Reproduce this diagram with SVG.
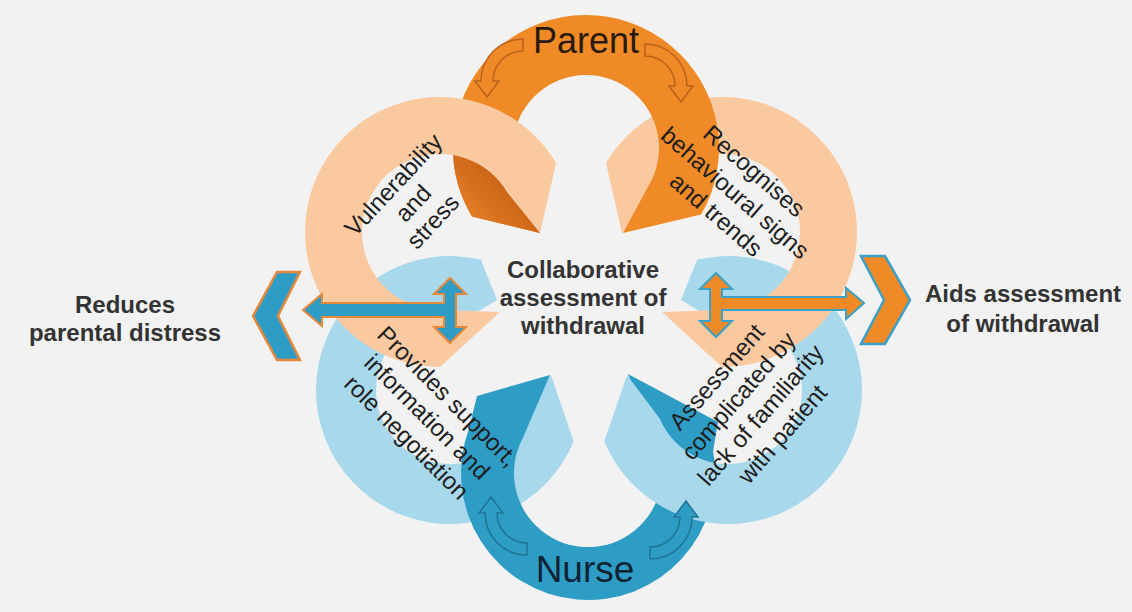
<svg xmlns="http://www.w3.org/2000/svg" width="1132" height="612" viewBox="0 0 1132 612">
<defs>
<style>
.t{font-family:"Liberation Sans",Arial,sans-serif}
.lbl{font-weight:bold;font-size:24px;fill:#333333;text-anchor:middle}
.ring{font-size:24px;fill:#1e1e1e;text-anchor:middle}
.peach{fill:#fbc9a0}
.orange{fill:#ef8a26}
.lblue{fill:#a8d8eb}
.dblue{fill:#2e9dc6}
.oarr{fill:#ef8a26;stroke:#b8621c;stroke-width:1.5}
.barr{fill:#2e9dc6;stroke:#1f7394;stroke-width:1.5}
</style>
<linearGradient id="leaf" x1="0.85" y1="0.15" x2="0.15" y2="0.9">
<stop offset="0" stop-color="#c05a14"/>
<stop offset="0.5" stop-color="#cf6818"/>
<stop offset="1" stop-color="#e8812a"/>
</linearGradient>
</defs>
<rect width="1132" height="612" fill="#f2f2f2"/>

<g id="ring-blue-left">
<path class="lblue" d="M480.8,259.6 A134,134 0 1,0 573.7,441.6 L551,375 L518.3,418.5 A74,74 0 1,1 467,318 L497,300 Z"/>
</g>
<g id="ring-nurse">
<path class="dblue" d="M477,396 L468.7,429.6 A127,127 0 1,0 713.1,450.9 L718,422 L628,374 L653.3,438.3 A74,74 0 1,1 522.7,438.3 L550,375 Z"/>
</g>
<g id="ring-blue-right">
<path class="lblue" d="M697.2,259.6 A134,134 0 1,1 604.3,441.6 L627,375 L659.7,418.5 A74,74 0 1,0 711,318 L681,300 Z"/>
</g>
<g id="nurse-arrows">
<path class="barr" d="M527,555 A42,42 0 0,1 485,513 L479,513 L491,497 L503,513 L497,513 A30,30 0 0,0 527,543 Z"/>
<path class="barr" d="M650,559 A42,42 0 0,0 692,517 L698,517 L686,501 L674,517 L680,517 A30,30 0 0,1 650,547 Z"/>
</g>
<g id="ring-peach-right">
<path class="peach" d="M722,367 A135,135 0 1,0 605.9,163.1 L622,233 L654.9,192.2 A78,78 0 1,1 722,310 L662,312 Z"/>
</g>
<g id="ring-parent">
<path class="orange" d="M472,216.5 A133,133 0 1,1 701.2,214.5 L623,233 L649.2,184.5 A73,73 0 1,0 523.4,185.6 L540,233 Z"/>
<path fill="url(#leaf)" d="M453.5,136.4 A133,133 0 0,0 472,216.5 L540,233 L523.4,185.6 A73,73 0 0,1 513.3,141.6 Z"/>
<path class="oarr" d="M523,39 A42,42 0 0,0 481,81 L475,81 L487,97 L499,81 L493,81 A30,30 0 0,1 523,51 Z"/>
<path class="oarr" d="M645,44 A42,42 0 0,1 687,86 L693,86 L681,102 L669,86 L675,86 A30,30 0 0,0 645,56 Z"/>
</g>
<g id="ring-peach-left">
<path class="peach" d="M440,367 A135,135 0 1,1 556.1,163.1 L540,233 L507.1,192.2 A78,78 0 1,0 440,310 L500,312 Z"/>
</g>

<g id="titles" class="t">
<text x="586" y="53" font-size="36" fill="#2b1a0e" text-anchor="middle">Parent</text>
<text x="585" y="582" font-size="37" fill="#0e2433" text-anchor="middle">Nurse</text>
</g>

<g id="ring-texts" class="t">
<text class="ring" transform="translate(414,204) rotate(-47)"><tspan x="0" y="-20">Vulnerability</tspan><tspan x="0" y="7">and</tspan><tspan x="0" y="34">stress</tspan></text>
<text class="ring" transform="translate(735,193) rotate(41)"><tspan x="0" y="-21">Recognises</tspan><tspan x="0" y="8">behavioural signs</tspan><tspan x="0" y="37">and trends</tspan></text>
<text class="ring" transform="translate(427,417) rotate(45)"><tspan x="0" y="-21">Provides support,</tspan><tspan x="0" y="8">information and</tspan><tspan x="0" y="37">role negotiation</tspan></text>
<text class="ring" transform="translate(750,406) rotate(-49)"><tspan x="0" y="-36">Assessment</tspan><tspan x="0" y="-7">complicated by</tspan><tspan x="0" y="22">lack of familiarity</tspan><tspan x="0" y="51">with patient</tspan></text>
</g>

<g id="connectors">
<path fill="#2e9dc6" stroke="#e8883a" stroke-width="2" stroke-linejoin="miter" d="M303,310 L322,294 L322,303 L444,303 L444,294 L434,294 L450,278 L466,294 L456,294 L456,327 L466,327 L450,343 L434,327 L444,327 L444,317 L322,317 L322,326 Z"/>
<path fill="#ef8a26" stroke="#3aa0c8" stroke-width="2" stroke-linejoin="miter" d="M864,303 L846,288 L846,297 L722,297 L722,289 L732,289 L716,273 L700,289 L710,289 L710,321 L700,321 L716,337 L732,321 L722,321 L722,310 L846,310 L846,319 Z"/>
<path fill="#2e9dc6" stroke="#e8883a" stroke-width="2.5" d="M277,272 L300,272 L278,316 L300,360 L277,360 L253,316 Z"/>
<path fill="#ef8a26" stroke="#3aa0c8" stroke-width="2.5" d="M861,256 L885,256 L910,300 L885,344 L861,344 L884,300 Z"/>
</g>

<g id="center-label" class="t">
<text class="lbl"><tspan x="583" y="278">Collaborative</tspan><tspan x="583" y="306">assessment of</tspan><tspan x="583" y="334">withdrawal</tspan></text>
</g>
<g id="left-label" class="t">
<text class="lbl"><tspan x="125" y="313">Reduces</tspan><tspan x="125" y="341">parental distress</tspan></text>
</g>
<g id="right-label" class="t">
<text class="lbl"><tspan x="1023" y="302">Aids assessment</tspan><tspan x="1023" y="332">of withdrawal</tspan></text>
</g>
</svg>
